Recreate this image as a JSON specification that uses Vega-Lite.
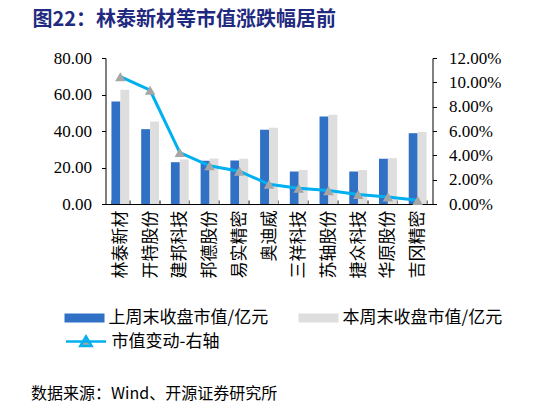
{
  "$schema": "https://vega.github.io/schema/vega-lite/v6.json",
  "width": 327,
  "height": 146,
  "autosize": {"type": "none"},
  "padding": {"left": 105.5, "top": 58, "right": 113.5, "bottom": 201},
  "background": "white",
  "title": {
    "text": "图22：林泰新材等市值涨跌幅居前",
    "anchor": "start",
    "frame": "group",
    "dx": -73,
    "offset": 19,
    "fontSize": 20,
    "font": "Noto Sans CJK SC",
    "fontWeight": "bold",
    "color": "#1F2A80"
  },
  "datasets": {
    "bars": [
      {"name": "林泰新材", "series": "上周末收盘市值/亿元", "value": 56.2},
      {"name": "林泰新材", "series": "本周末收盘市值/亿元", "value": 62.6},
      {"name": "开特股份", "series": "上周末收盘市值/亿元", "value": 41.0},
      {"name": "开特股份", "series": "本周末收盘市值/亿元", "value": 45.2},
      {"name": "建邦科技", "series": "上周末收盘市值/亿元", "value": 22.9},
      {"name": "建邦科技", "series": "本周末收盘市值/亿元", "value": 24.4},
      {"name": "邦德股份", "series": "上周末收盘市值/亿元", "value": 23.7},
      {"name": "邦德股份", "series": "本周末收盘市值/亿元", "value": 24.9},
      {"name": "易实精密", "series": "上周末收盘市值/亿元", "value": 23.8},
      {"name": "易实精密", "series": "本周末收盘市值/亿元", "value": 24.8},
      {"name": "奥迪威", "series": "上周末收盘市值/亿元", "value": 40.7},
      {"name": "奥迪威", "series": "本周末收盘市值/亿元", "value": 41.8},
      {"name": "三祥科技", "series": "上周末收盘市值/亿元", "value": 17.8},
      {"name": "三祥科技", "series": "本周末收盘市值/亿元", "value": 18.6},
      {"name": "苏轴股份", "series": "上周末收盘市值/亿元", "value": 48.0},
      {"name": "苏轴股份", "series": "本周末收盘市值/亿元", "value": 48.9},
      {"name": "捷众科技", "series": "上周末收盘市值/亿元", "value": 17.8},
      {"name": "捷众科技", "series": "本周末收盘市值/亿元", "value": 18.6},
      {"name": "华原股份", "series": "上周末收盘市值/亿元", "value": 24.8},
      {"name": "华原股份", "series": "本周末收盘市值/亿元", "value": 25.1},
      {"name": "吉冈精密", "series": "上周末收盘市值/亿元", "value": 38.8},
      {"name": "吉冈精密", "series": "本周末收盘市值/亿元", "value": 39.5}
    ],
    "chg": [
      {"name": "林泰新材", "pct": 0.1046},
      {"name": "开特股份", "pct": 0.0935},
      {"name": "建邦科技", "pct": 0.0423},
      {"name": "邦德股份", "pct": 0.0314},
      {"name": "易实精密", "pct": 0.0270},
      {"name": "奥迪威", "pct": 0.0162},
      {"name": "三祥科技", "pct": 0.0130},
      {"name": "苏轴股份", "pct": 0.0110},
      {"name": "捷众科技", "pct": 0.0078},
      {"name": "华原股份", "pct": 0.0057},
      {"name": "吉冈精密", "pct": 0.0030}
    ]
  },
  "layer": [
    {
      "data": {"name": "bars"},
      "mark": {"type": "bar"},
      "encoding": {
        "x": {
          "field": "name",
          "type": "nominal",
          "sort": null,
          "scale": {"paddingInner": 0.4, "paddingOuter": 0.2},
          "axis": {
            "title": "数据来源：Wind、开源证券研究所",
            "titleAnchor": "start",
            "titleAlign": "left",
            "titleX": -75,
            "titleY": 189,
            "titleBaseline": "middle",
            "titleFont": "Noto Sans CJK SC",
            "titleFontSize": 16,
            "titleFontWeight": "normal",
            "titleColor": "#000000",
            "labelAngle": -90,
            "labelFont": "Noto Sans CJK SC",
            "labelFontSize": 17,
            "labelColor": "#000000",
            "labelPadding": 10,
            "tickBand": "extent",
            "tickSize": -4,
            "tickColor": "#000000",
            "domainColor": "#000000",
            "grid": false
          }
        },
        "xOffset": {"field": "series", "type": "nominal", "sort": ["上周末收盘市值/亿元", "本周末收盘市值/亿元"]},
        "y": {
          "field": "value",
          "type": "quantitative",
          "scale": {"domain": [0, 80]},
          "axis": {
            "orient": "left",
            "title": null,
            "values": [0, 20, 40, 60, 80],
            "format": ".2f",
            "labelFont": "Liberation Serif",
            "labelFontSize": 17,
            "labelColor": "#000000",
            "labelPadding": 10,
            "tickSize": 4,
            "tickColor": "#000000",
            "domainColor": "#000000",
            "grid": false
          }
        },
        "color": {
          "field": "series",
          "type": "nominal",
          "sort": ["上周末收盘市值/亿元", "本周末收盘市值/亿元"],
          "scale": {"domain": ["上周末收盘市值/亿元", "本周末收盘市值/亿元"], "range": ["#3071C5", "#DEDEDE"]},
          "legend": {
            "orient": "none",
            "legendX": -41,
            "legendY": 240,
            "direction": "horizontal",
            "columns": 2,
            "title": null,
            "symbolType": "M-1,-0.225H1V0.225H-1Z",
            "symbolSize": 1600,
            "symbolStrokeWidth": 0,
            "labelFont": "Noto Sans CJK SC",
            "labelFontSize": 17,
            "labelColor": "#000000",
            "labelOffset": 4,
            "labelLimit": 300,
            "columnPadding": 30
          }
        }
      }
    },
    {
      "data": {"name": "chg"},
      "encoding": {
        "x": {"field": "name", "type": "nominal", "sort": null},
        "y": {
          "field": "pct",
          "type": "quantitative",
          "scale": {"domain": [0, 0.12]},
          "axis": {
            "orient": "right",
            "title": null,
            "values": [0, 0.02, 0.04, 0.06, 0.08, 0.1, 0.12],
            "format": ".2%",
            "labelFont": "Liberation Serif",
            "labelFontSize": 17,
            "labelColor": "#000000",
            "labelPadding": 12,
            "tickSize": 4,
            "tickColor": "#000000",
            "domainColor": "#000000",
            "grid": false
          }
        }
      },
      "layer": [
        {
          "mark": {"type": "line", "strokeWidth": 3},
          "encoding": {
            "stroke": {
              "datum": "市值变动-右轴",
              "scale": {"range": ["#00B0F0"]},
              "legend": {
                "orient": "none",
                "legendX": -41,
                "legendY": 262,
                "title": null,
                "symbolType": "M-1,0H1M-0.28,0.22L0,-0.25L0.28,0.22Z",
                "symbolSize": 1600,
                "symbolStrokeWidth": 2.5,
                "labelFont": "Noto Sans CJK SC",
                "labelFontSize": 17,
                "labelColor": "#000000",
                "labelOffset": 4,
                "encode": {"symbols": {"update": {"fill": {"value": "#A6A6A6"}}}}
              }
            }
          }
        },
        {
          "mark": {"type": "point", "shape": "triangle-up", "filled": true, "color": "#A6A6A6", "size": 110, "opacity": 1}
        }
      ]
    }
  ],
  "resolve": {"scale": {"y": "independent"}},
  "config": {"view": {"stroke": null}}
}
